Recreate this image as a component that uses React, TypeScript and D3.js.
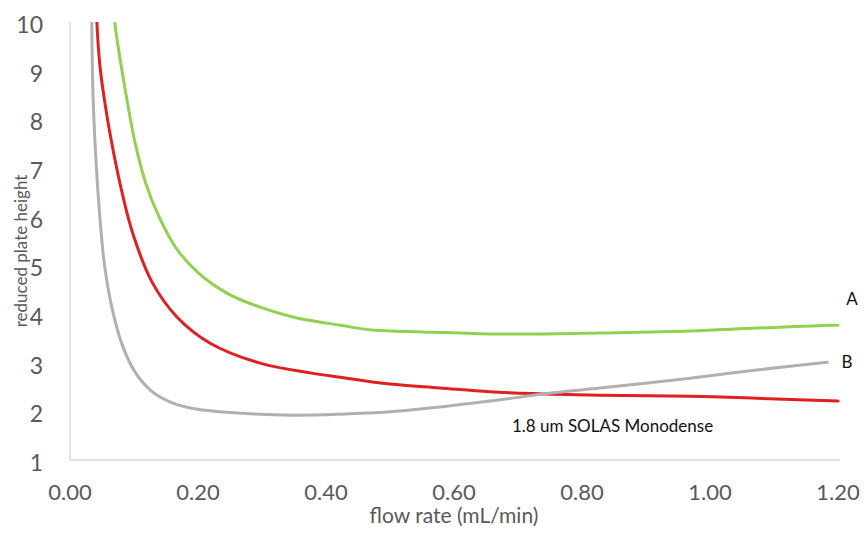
import React from "react";
import * as d3 from "d3";

const xTicks = [0, 0.2, 0.4, 0.6, 0.8, 1.0, 1.2];
const yTicks = [1, 2, 3, 4, 5, 6, 7, 8, 9, 10];

const greenX = [0.068, 0.070, 0.080, 0.089, 0.102, 0.118, 0.139, 0.166, 0.200, 0.245, 0.297, 0.348, 0.422, 0.473, 0.552, 0.656, 0.734, 0.828, 0.969, 1.073, 1.188, 1.2];
const greenY = [10.6, 10.0, 9.1, 8.4, 7.5, 6.7, 6.0, 5.35, 4.85, 4.43, 4.14, 3.94, 3.77, 3.67, 3.63, 3.59, 3.59, 3.61, 3.65, 3.71, 3.77, 3.77];

const redX = [0.041, 0.042, 0.047, 0.055, 0.0625, 0.078, 0.098, 0.128, 0.167, 0.219, 0.297, 0.375, 0.422, 0.5, 0.578, 0.656, 0.734, 0.828, 0.969, 1.073, 1.2];
const redY = [10.6, 10.0, 9.07, 8.3, 7.71, 6.69, 5.66, 4.66, 3.94, 3.40, 2.99, 2.79, 2.70, 2.56, 2.48, 2.40, 2.36, 2.33, 2.31, 2.27, 2.21];

const grayX = [0.034, 0.034, 0.036, 0.040, 0.046, 0.054, 0.066, 0.082, 0.102, 0.127, 0.155, 0.192, 0.27, 0.348, 0.422, 0.5, 0.578, 0.656, 0.755, 0.828, 0.969, 1.073, 1.183];
const grayY = [10.6, 10.0, 8.5, 7.3, 6.1, 5.0, 4.1, 3.35, 2.8, 2.42, 2.2, 2.06, 1.96, 1.92, 1.94, 1.99, 2.09, 2.21, 2.38, 2.48, 2.68, 2.85, 3.01];

const seriesNames = ["A", "mid", "B"];

export default function App() {
  const W = 867, H = 533;
  const x = d3.scaleLinear().domain([0, 1.2]).range([70, 838]);
  const y = d3.scaleLinear().domain([1, 10]).range([460, 22]);
  const line = d3
    .line<[number, number]>()
    .x((d) => x(d[0]))
    .y((d) => y(d[1]))
    .curve(d3.curveCatmullRom.alpha(0.5));
  const series = [
    { name: seriesNames[0], xs: greenX, ys: greenY, color: "#92d050" },
    { name: seriesNames[1], xs: redX, ys: redY, color: "#e02020" },
    { name: seriesNames[2], xs: grayX, ys: grayY, color: "#b0b0b0" },
  ];
  const font = "Lato, 'Open Sans', sans-serif";
  return (
    <svg width={W} height={H} style={{ position: "absolute", left: 0, top: 0, background: "#fff" }}>
      <defs>
        <clipPath id="plot">
          <rect x={x(0)} y={y(10)} width={x(1.25) - x(0)} height={y(1) - y(10)} />
        </clipPath>
      </defs>
      <line x1={x(0)} x2={x(0)} y1={y(10)} y2={y(1)} stroke="#d9d9d9" strokeWidth={1.5} />
      <line x1={x(0)} x2={840} y1={y(1)} y2={y(1)} stroke="#d9d9d9" strokeWidth={1.5} />
      {yTicks.map((t) => (
        <text key={t} x={43} y={y(t) + 2} textAnchor="end" dominantBaseline="central" fontFamily={font} fontSize={23} fill="#595959">
          {t}
        </text>
      ))}
      {xTicks.map((t) => (
        <text key={t} x={x(t)} y={491} textAnchor="middle" dominantBaseline="central" fontFamily={font} fontSize={22} fill="#595959">
          {t.toFixed(2)}
        </text>
      ))}
      <text x={454} y={523} textAnchor="middle" fontFamily={font} fontSize={21} fill="#595959">
        flow rate (mL/min)
      </text>
      <text transform="translate(27,251) rotate(-90)" textAnchor="middle" fontFamily={font} fontSize={17} fill="#595959">
        reduced plate height
      </text>
      <g clipPath="url(#plot)">
        {series.map((s) => (
          <path
            key={s.name}
            d={line(s.xs.map((v, i) => [v, s.ys[i]] as [number, number])) || ""}
            fill="none"
            stroke={s.color}
            strokeWidth={3}
            strokeLinecap="round"
          />
        ))}
      </g>
      <text x={852} y={298} textAnchor="middle" dominantBaseline="central" fontFamily={font} fontSize={17} fill="#111">
        A
      </text>
      <text x={847} y={361} textAnchor="middle" dominantBaseline="central" fontFamily={font} fontSize={17} fill="#111">
        B
      </text>
      <text x={512} y={432} fontFamily={font} fontSize={17} fill="#111">
        1.8 um SOLAS Monodense
      </text>
    </svg>
  );
}
